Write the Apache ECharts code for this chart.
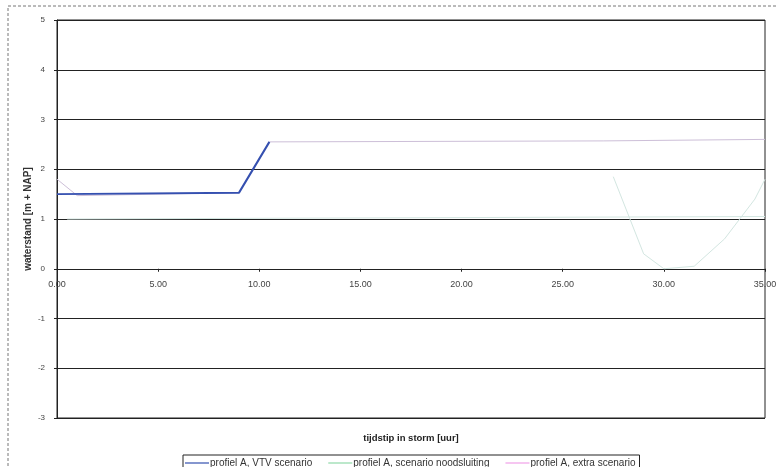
<!DOCTYPE html>
<html>
<head>
<meta charset="utf-8">
<script src="https://cdn.jsdelivr.net/npm/echarts@6/dist/echarts.min.js"></script>
<style>
html,body{margin:0;padding:0;background:#fff;}
#c{width:778px;height:467px;}
</style>
</head>
<body>
<div id="c"></div>
<script>
// Data (x = tijdstip in storm [uur], y = waterstand [m + NAP])
const xTicks = [0, 5, 10, 15, 20, 25, 30, 35];
const yTicks = [-3, -2, -1, 0, 1, 2, 3, 4, 5];
const seriesNames = ['profiel A, VTV scenario', 'profiel A, scenario noodsluiting', 'profiel A, extra scenario'];
const vtvScenario = [[0, 1.5], [9, 1.53], [10.5, 2.55]];
const noodsluiting = [[0.5, 1.0], [35, 1.05], [35, '-'], [27.5, 1.85], [29, 0.3], [30, 0.0], [31.5, 0.05], [33, 0.6], [34.5, 1.4], [35, 1.8]];
const extraScenario = [[0, 1.8], [1, 1.47], [9, 1.53], [10.5, 2.55], [27, 2.57], [35, 2.6]];

const chart = echarts.init(document.getElementById('c'));
const font = 'Liberation Sans, Arial, sans-serif';
const gridTop = 20, gridBottomPx = 418;
const yMin = yTicks[0], yMax = yTicks[yTicks.length - 1];
// put the x axis on the y = 0 line
const zeroOffset = -(gridBottomPx - gridTop) * (0 - yMin) / (yMax - yMin);
chart.setOption({
  animation: false,
  backgroundColor: '#fff',
  graphic: [{
    type: 'rect', shape: {x: 8, y: 6, width: 820, height: 520},
    style: {fill: 'none', stroke: '#777', lineWidth: 1, lineDash: [3, 2]}, silent: true
  }],
  grid: {left: 57, right: 13, top: gridTop, bottom: 467 - gridBottomPx, containLabel: false, outerBoundsMode: 'none',
         show: true, borderColor: '#222', borderWidth: 1, backgroundColor: 'transparent'},
  xAxis: {
    type: 'value', min: xTicks[0], max: xTicks[xTicks.length - 1], interval: 5,
    offset: zeroOffset,
    name: 'tijdstip in storm [uur]', nameLocation: 'middle', nameGap: 165, nameMoveOverlap: false,
    nameTextStyle: {fontFamily: font, fontSize: 9.5, fontWeight: 'bold', color: '#222'},
    axisLine: {onZero: false, lineStyle: {color: '#222', width: 1}},
    axisTick: {show: true, inside: false, length: 3, lineStyle: {color: '#222'}},
    axisLabel: {fontFamily: font, fontSize: 9, color: '#444', margin: 11, formatter: v => v.toFixed(2)},
    splitLine: {show: false}
  },
  yAxis: {
    type: 'value', min: yMin, max: yMax, interval: 1,
    name: 'waterstand [m + NAP]', nameLocation: 'middle', nameGap: 24, nameRotate: 90, nameMoveOverlap: false,
    nameTextStyle: {fontFamily: font, fontSize: 10, fontWeight: 'bold', color: '#333'},
    axisLine: {show: true, onZero: false, lineStyle: {color: '#222', width: 1}},
    axisTick: {show: true, length: 3, lineStyle: {color: '#222'}},
    axisLabel: {fontFamily: font, fontSize: 8, color: '#444', margin: 12},
    splitLine: {show: true, lineStyle: {color: '#222', width: 1}}
  },
  legend: {
    left: 183, top: 455, itemGap: 16,
    borderColor: '#222', borderWidth: 1, padding: [3, 4, 4, 2],
    icon: 'rect', itemWidth: 24, itemHeight: 1.2,
    textStyle: {fontFamily: font, fontSize: 10, color: '#333', padding: [0, 0, 0, -4]},
    data: seriesNames
  },
  series: [
    {name: seriesNames[0], type: 'line', data: vtvScenario, showSymbol: false, z: 5,
     color: '#3550b0', lineStyle: {width: 2, color: '#3550b0'}},
    {name: seriesNames[1], type: 'line', data: noodsluiting, showSymbol: false, z: 3,
     connectNulls: false, color: '#8fd9a8', lineStyle: {width: 1, color: '#d3e6e1'}},
    {name: seriesNames[2], type: 'line', data: extraScenario, showSymbol: false, z: 4,
     color: '#f0a0e8', lineStyle: {width: 1, color: '#cdbfd8'}}
  ]
});
</script>
</body>
</html>
